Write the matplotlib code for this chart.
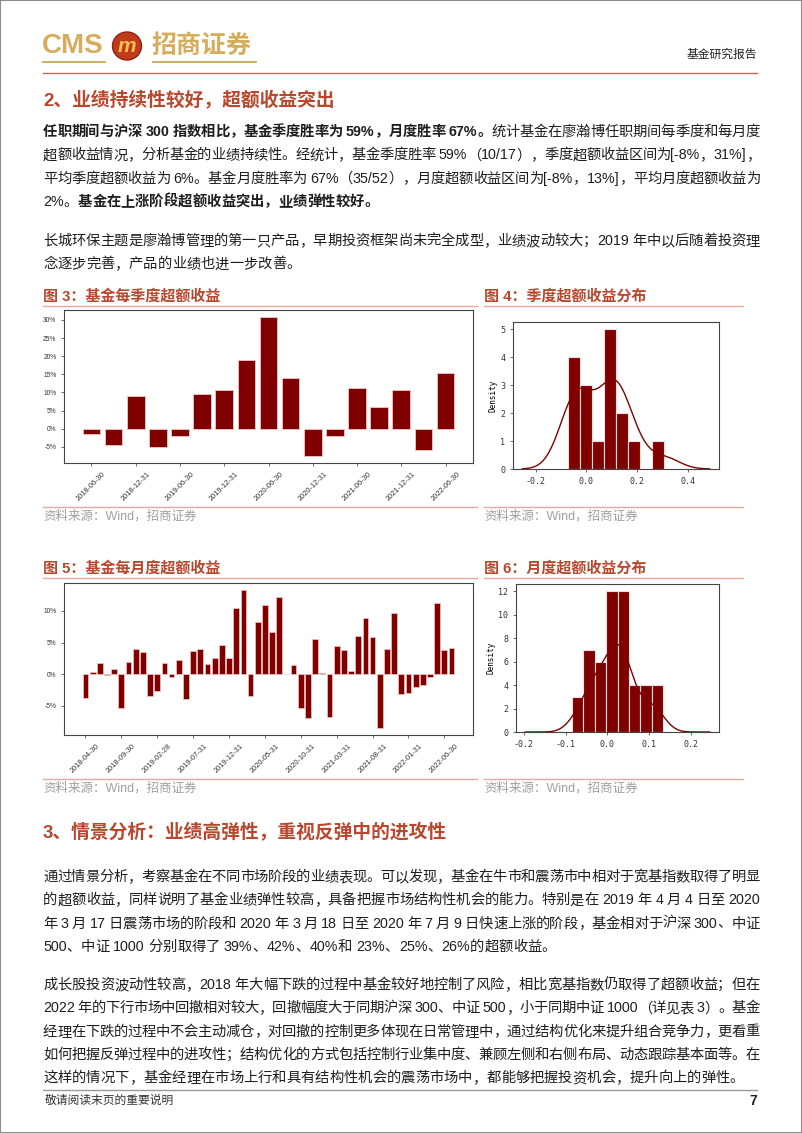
import re
import numpy as np
import matplotlib
matplotlib.use("Agg")
import matplotlib.pyplot as plt
import seaborn as sns
from matplotlib.lines import Line2D
from matplotlib.patches import Ellipse, Rectangle
from matplotlib.ticker import MultipleLocator, FuncFormatter

plt.rcParams['font.family'] = ['Liberation Sans', 'Noto Sans CJK SC']
plt.rcParams['axes.unicode_minus'] = False

# ---- data ----
quarter_labels = ['2018-06-30', '2018-09-30', '2018-12-31', '2019-03-31', '2019-06-30',
                  '2019-09-30', '2019-12-31', '2020-03-31', '2020-06-30', '2020-09-30',
                  '2020-12-31', '2021-03-31', '2021-06-30', '2021-09-30', '2021-12-31',
                  '2022-03-31', '2022-06-30']
quarter_excess = [-1.4, -4.35, 8.9, -5.0, -1.85, 9.7, 10.8, 19.0, 30.8, 13.9,
                  -7.5, -1.95, 11.1, 6.1, 10.8, -5.8, 15.3]

month_tick_labels = ['2018-04-30', '2018-09-30', '2019-02-28', '2019-07-31', '2019-12-31',
                     '2020-05-31', '2020-10-31', '2021-03-31', '2021-08-31', '2022-01-31',
                     '2022-06-30']
month_excess = [-3.7, 0.3, 1.7, -0.2, 0.85, -5.3, 2.0, 4.0, 3.45, -3.5,
                -2.6, 1.7, -0.5, 2.2, -3.9, 3.6, 4.05, 1.6, 2.6, 4.6,
                2.5, 10.4, 13.3, -3.4, 8.2, 10.95, 6.6, 12.2, 0.1, 1.4,
                -5.35, -6.85, 5.5, 0.15, -6.7, 4.5, 3.75, 0.5, 6.0, 8.9,
                5.9, -8.5, 4.0, 9.6, -3.2, -2.9, -1.95, -1.7, -0.4, 11.2,
                3.75, 4.15]

para1 = [
    [('任职期间与沪深 300 指数相比，基金季度胜率为 59%，月度胜率 67%。', True),
     ('统计基金在廖瀚博任职期间每季度和每月度', False)],
    [('超额收益情况，分析基金的业绩持续性。经统计，基金季度胜率 59%（10/17），季度超额收益区间为[-8%，31%]，', False)],
    [('平均季度超额收益为 6%。基金月度胜率为 67%（35/52），月度超额收益区间为[-8%，13%]，平均月度超额收益为', False)],
    [('2%。', False), ('基金在上涨阶段超额收益突出，业绩弹性较好。', True)],
]
para2 = [
    '长城环保主题是廖瀚博管理的第一只产品，早期投资框架尚未完全成型，业绩波动较大；2019 年中以后随着投资理',
    '念逐步完善，产品的业绩也进一步改善。',
]
para3 = [
    '通过情景分析，考察基金在不同市场阶段的业绩表现。可以发现，基金在牛市和震荡市中相对于宽基指数取得了明显',
    '的超额收益，同样说明了基金业绩弹性较高，具备把握市场结构性机会的能力。特别是在 2019 年 4 月 4 日至 2020',
    '年 3 月 17 日震荡市场的阶段和 2020 年 3 月 18 日至 2020 年 7 月 9 日快速上涨的阶段，基金相对于沪深 300、中证',
    '500、中证 1000 分别取得了 39%、42%、40%和 23%、25%、26%的超额收益。',
]
para4 = [
    '成长股投资波动性较高，2018 年大幅下跌的过程中基金较好地控制了风险，相比宽基指数仍取得了超额收益；但在',
    '2022 年的下行市场中回撤相对较大，回撤幅度大于同期沪深 300、中证 500，小于同期中证 1000（详见表 3）。基金',
    '经理在下跌的过程中不会主动减仓，对回撤的控制更多体现在日常管理中，通过结构优化来提升组合竞争力，更看重',
    '如何把握反弹过程中的进攻性；结构优化的方式包括控制行业集中度、兼顾左侧和右侧布局、动态跟踪基本面等。在',
    '这样的情况下，基金经理在市场上行和具有结构性机会的震荡市场中，都能够把握投资机会，提升向上的弹性。',
]

RED = '#800000'
HEAD = '#b9472d'
GOLD = '#d6ad5c'

W, H = 802, 1133
fig = plt.figure(figsize=(W / 100, H / 100), dpi=100)
renderer = fig.canvas.get_renderer()


def fx(x):
    return x / W


def fy(y):
    return 1 - y / H


def hline(y, x0, x1, color, lw=1.0):
    fig.add_artist(Line2D([fx(x0), fx(x1)], [fy(y), fy(y)], transform=fig.transFigure,
                          color=color, lw=lw))


def rect(l, t, r, b):
    return [fx(l), fy(b), (r - l) / W, (b - t) / H]


def text_line(y, segs, x0=43, x1=760, size=10.3, justify=True, color='#1e1e1e'):
    # one line of body text, spread to the full column width like the report
    em = size * 100 / 72
    items = []
    for s, bold in segs:
        for m in re.finditer(r'[!-~]+|\s+|.', s):
            tok = m.group()
            if tok.isspace():
                items.append((None, em * 0.26))
                continue
            t = fig.text(0, fy(y + 5), tok, fontsize=size, color=color,
                         fontweight='bold' if bold else 'normal', va='baseline', ha='left')
            if ord(tok[0]) > 127:
                w = em
            else:
                w = t.get_window_extent(renderer).width
            items.append((t, w))
    total = sum(w for _, w in items)
    gap = (x1 - x0 - total) / (len(items) - 1) if justify and len(items) > 1 else 0
    x = x0
    for t, w in items:
        if t is not None:
            t.set_x(fx(x))
        x += w + gap


# ---- page furniture ----
fig.add_artist(Rectangle((0, 0), 1, 1, transform=fig.transFigure, fill=False,
                         edgecolor='#8c8c8c', lw=1.5))
fig.text(fx(42), fy(46), 'CMS', fontsize=20, fontweight='bold', color=GOLD, va='center')
fig.add_artist(Ellipse((fx(127), fy(46)), 29 / W, 28 / H, transform=fig.transFigure,
                       facecolor='#c23a1c', edgecolor='#8a2412', lw=1))
fig.text(fx(127), fy(46), 'm', fontsize=15, fontweight='bold', style='italic',
         color='#f3c14f', ha='center', va='center')
fig.text(fx(152), fy(46), '招商证券', fontsize=18, fontweight='bold', color=GOLD, va='center')
hline(62, 43, 105, GOLD, 1.4)
hline(62, 153, 256, GOLD, 1.4)
fig.text(fx(757), fy(55), '基金研究报告', fontsize=8.5, color='#222222', ha='right', va='center')
hline(73, 43, 757, '#c46a54', 1.0)

fig.text(fx(43), fy(101), '2、业绩持续性较好，超额收益突出', fontsize=13.5,
         fontweight='bold', color=HEAD, va='center')

for i, segs in enumerate(para1):
    text_line(131 + i * 23.3, segs, justify=(i < len(para1) - 1))
for i, s in enumerate(para2):
    text_line(240 + i * 23.3, [(s, False)], justify=(i < len(para2) - 1))


# ---- figure captions ----
def caption(x0, x1, y_title, y_src, title):
    fig.text(fx(x0), fy(y_title), title, fontsize=10.8, fontweight='bold', color=HEAD, va='center')
    hline(y_title + 10, x0, x1, '#e4aa9a', 1.0)
    hline(y_src - 9, x0, x1, '#e4aa9a', 1.0)
    fig.text(fx(x0), fy(y_src), '资料来源：Wind，招商证券', fontsize=9, color='#a0a0a0', va='center')


caption(43, 477, 296, 516, '图 3：基金每季度超额收益')
caption(484, 743, 296, 516, '图 4：季度超额收益分布')
caption(43, 477, 568, 788, '图 5：基金每月度超额收益')
caption(484, 743, 568, 788, '图 6：月度超额收益分布')


def style_axes(ax):
    for sp in ax.spines.values():
        sp.set_color('#444444')
        sp.set_linewidth(0.8)
    ax.tick_params(colors='#333333', length=2, width=0.5)


pct = FuncFormatter(lambda v, _: f'{v:.0f}%')

# ---- chart 3: quarterly excess ----
ax1 = fig.add_axes(rect(64, 310, 473, 463))
xq = np.arange(len(quarter_excess))
ax1.bar(xq, quarter_excess, width=0.8, color=RED, edgecolor='#f2c6c6', linewidth=0.6)
ax1.set_xticks(xq[::2])
ax1.set_xticklabels(quarter_labels[::2], rotation=45, fontsize=5.3)
ax1.yaxis.set_major_locator(MultipleLocator(5))
ax1.yaxis.set_major_formatter(pct)
ax1.tick_params(axis='y', labelsize=4.8)
style_axes(ax1)

# ---- chart 5: monthly excess ----
ax3 = fig.add_axes(rect(64, 583, 473, 735))
xm = np.arange(len(month_excess))
ax3.bar(xm, month_excess, width=0.8, color=RED, edgecolor='#f2c6c6', linewidth=0.5)
ax3.set_xticks(xm[::5])
ax3.set_xticklabels(month_tick_labels, rotation=45, fontsize=5.3)
ax3.yaxis.set_major_locator(MultipleLocator(5))
ax3.yaxis.set_major_formatter(pct)
ax3.tick_params(axis='y', labelsize=4.8)
style_axes(ax3)

# ---- chart 4 / 6: distributions ----
q = np.array(quarter_excess) / 100
m = np.array(month_excess) / 100

ax2 = fig.add_axes(rect(513, 322, 719, 469))
sns.kdeplot(x=q, ax=ax2, color=RED, lw=1.0, cut=3)
ax2.hist(q, bins=8, color=RED, edgecolor='#f6dcdc', linewidth=0.8)
ax2.xaxis.set_major_locator(MultipleLocator(0.2))
ax2.xaxis.set_major_formatter(FuncFormatter(lambda v, _: f'{v:.1f}'))
ax2.set_ylim(0, 5.25)

ax4 = fig.add_axes(rect(516, 584, 719, 732))
sns.kdeplot(x=m, ax=ax4, color=RED, lw=1.0, cut=4.8)
ax4.hist(m, bins=8, color=RED, edgecolor='#f6dcdc', linewidth=0.8)
ax4.xaxis.set_major_locator(MultipleLocator(0.1))
ax4.xaxis.set_major_formatter(FuncFormatter(lambda v, _: f'{v:.1f}'))
ax4.yaxis.set_major_locator(MultipleLocator(2))
ax4.set_ylim(0, 12.6)

for ax in (ax2, ax4):
    style_axes(ax)
    ax.tick_params(labelsize=6, labelfontfamily='DejaVu Sans Mono')
    ax.set_ylabel('Density', fontsize=5.5, family='DejaVu Sans Mono', labelpad=2)

# ---- section 3 ----
fig.text(fx(43), fy(833), '3、情景分析：业绩高弹性，重视反弹中的进攻性', fontsize=13.5,
         fontweight='bold', color=HEAD, va='center')
for i, s in enumerate(para3):
    text_line(876 + i * 23.3, [(s, False)], justify=(i < len(para3) - 1))
for i, s in enumerate(para4):
    text_line(984 + i * 23.3, [(s, False)], justify=(i < len(para4) - 1))

# ---- footer ----
hline(1090, 43, 757, '#9a9a9a', 1.0)
fig.text(fx(45), fy(1101), '敬请阅读末页的重要说明', fontsize=8.5, color='#333333', va='center')
fig.text(fx(757), fy(1101), '7', fontsize=10, fontweight='bold', color='#222222',
         ha='right', va='center')

fig.savefig('out.png', dpi=100)
